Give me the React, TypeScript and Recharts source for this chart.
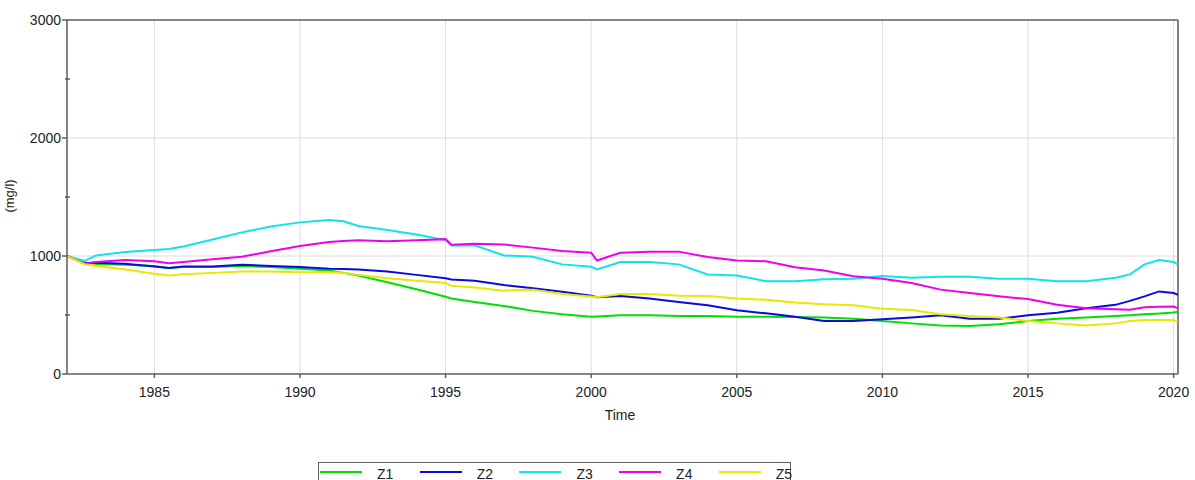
import React from 'react';
import {
  LineChart,
  Line,
  XAxis,
  YAxis,
  CartesianGrid,
  ReferenceLine,
  Label,
} from 'recharts';

// sample times (decimal years)
const time = [
  1982, 1982.6, 1983, 1984, 1985, 1985.5, 1986, 1987, 1988, 1989, 1990, 1991,
  1991.5, 1992, 1993, 1994, 1995, 1995.2, 1996, 1997, 1998, 1999, 2000, 2000.2,
  2001, 2002, 2003, 2004, 2005, 2006, 2007, 2008, 2009, 2010, 2011, 2012, 2013,
  2014, 2015, 2016, 2017, 2018, 2018.5, 2019, 2019.5, 2020, 2020.15,
];

// concentrations (mg/l) per zone
const z1 = [
  1000, 945, 932, 926, 915, 898, 906, 906, 915, 906, 892, 877,
  857, 834, 777, 718, 655, 640, 611, 577, 535, 506, 486, 488,
  497, 497, 492, 492, 486, 486, 483, 478, 469, 449, 429, 412, 406,
  421, 449, 469, 478, 492, 498, 506, 512, 521, 527,
];
const z2 = [
  1000, 940, 943, 935, 912, 898, 912, 912, 926, 915, 906, 892,
  889, 886, 869, 840, 811, 800, 791, 754, 726, 697, 663, 650,
  660, 640, 611, 583, 540, 514, 486, 449, 449, 464, 478, 497, 469,
  469, 497, 520, 557, 586, 620, 658, 700, 686, 672,
];
const z3 = [
  1000, 958, 1005, 1034, 1050, 1060, 1080, 1140, 1200, 1250, 1285, 1306,
  1295, 1254, 1220, 1182, 1135, 1090, 1091, 1005, 994, 929, 908, 886,
  949, 949, 929, 844, 835, 787, 787, 802, 807, 830, 816, 825, 825,
  807, 807, 787, 787, 816, 844, 929, 966, 949, 929,
];
const z4 = [
  1000, 935, 949, 966, 956, 938, 950, 972, 994, 1040, 1085, 1119,
  1128, 1134, 1125, 1134, 1143, 1096, 1104, 1098, 1071, 1042, 1028, 962,
  1028, 1037, 1037, 991, 962, 956, 905, 877, 829, 807, 772, 715, 686,
  658, 635, 586, 557, 549, 545, 566, 570, 572, 557,
];
const z5 = [
  1000, 930, 915, 885, 850, 834, 846, 857, 869, 869, 863, 863,
  858, 840, 811, 791, 771, 748, 734, 706, 714, 678, 657, 650,
  678, 678, 663, 660, 640, 629, 606, 591, 583, 554, 543, 506, 492,
  478, 449, 429, 412, 429, 450, 457, 457, 457, 440,
];

const yearTicks = [1985, 1990, 1995, 2000, 2005, 2010, 2015, 2020];
const valueTicks = [0, 500, 1000, 1500, 2000, 2500, 3000];
const gridValues = [1000, 2000];

const series = [
  { key: 'Z1', values: z1, color: '#00e000' },
  { key: 'Z2', values: z2, color: '#0a0ae0' },
  { key: 'Z3', values: z3, color: '#10e4e4' },
  { key: 'Z4', values: z4, color: '#ee00ee' },
  { key: 'Z5', values: z5, color: '#e8e800' },
];

const data = time.map((t, i) => {
  const row: Record<string, number> = { t };
  series.forEach((s) => {
    row[s.key] = s.values[i];
  });
  return row;
});

const FONT = '"Liberation Sans", Arial, sans-serif';
const AXIS = '#5f5f5f';
const X_MIN = 1982;
const X_MAX = 2020.15;
const PLOT_LEFT = 67;

// major ticks get a label and an outward mark, minor ones just cross the axis
const ValueTick = (props: any) => {
  const { y, payload } = props;
  const major = payload.value % 1000 === 0;
  if (!major) {
    return (
      <line x1={PLOT_LEFT - 2} x2={PLOT_LEFT + 3} y1={y} y2={y} stroke={AXIS} strokeWidth={1.5} />
    );
  }
  return (
    <g>
      <line x1={PLOT_LEFT - 5} x2={PLOT_LEFT} y1={y} y2={y} stroke={AXIS} strokeWidth={1.5} />
      <text
        x={PLOT_LEFT - 6}
        y={y}
        dy={5}
        textAnchor="end"
        fontSize={14}
        fontFamily={FONT}
        fill="#222"
      >
        {payload.value}
      </text>
    </g>
  );
};

const Legendbox = () => (
  <div
    style={{
      position: 'absolute',
      left: 318,
      top: 462,
      width: 471,
      height: 24,
      border: `1px solid ${AXIS}`,
      fontFamily: FONT,
      fontSize: 14,
      color: '#222',
    }}
  >
    {series.map((s, i) => (
      <div key={s.key}>
        <div
          style={{
            position: 'absolute',
            left: 1 + i * 99.7,
            top: 8,
            width: 42,
            height: 2,
            background: s.color,
          }}
        />
        <span style={{ position: 'absolute', left: 58 + i * 99.7, top: 3 }}>
          {s.key}
        </span>
      </div>
    ))}
  </div>
);

export default function App() {
  return (
    <div style={{ position: 'absolute', left: 0, top: 0, width: 1195, height: 480, background: '#fff' }}>
      <LineChart
        width={1195}
        height={480}
        data={data}
        margin={{ top: 20, right: 17, bottom: 56, left: 7 }}
      >
        <CartesianGrid stroke="#dcdcdc" strokeWidth={1} horizontalValues={gridValues} />
        <XAxis
          dataKey="t"
          type="number"
          domain={[X_MIN, X_MAX]}
          ticks={yearTicks}
          allowDataOverflow
          height={50}
          stroke={AXIS}
          strokeWidth={1.5}
          tickSize={4}
          tickMargin={9}
          tick={{ fontSize: 14, fontFamily: FONT, fill: '#222' }}
        >
          <Label
            content={() => (
              <text x={620} y={420} textAnchor="middle" fontSize={14} fontFamily={FONT} fill="#222">
                Time
              </text>
            )}
          />
        </XAxis>
        <YAxis
          type="number"
          domain={[0, 3000]}
          ticks={valueTicks}
          width={60}
          stroke={AXIS}
          strokeWidth={1.5}
          tickLine={false}
          tick={<ValueTick />}
          interval={0}
        >
          <Label
            content={() => (
              <text
                x={14}
                y={196}
                transform="rotate(-90 14 196)"
                textAnchor="middle"
                fontSize={13}
                fontFamily={FONT}
                fill="#222"
              >
                (mg/l)
              </text>
            )}
          />
        </YAxis>
        <ReferenceLine y={3000} stroke={AXIS} strokeWidth={1.5} ifOverflow="visible" />
        <ReferenceLine x={X_MAX} stroke={AXIS} strokeWidth={1.5} ifOverflow="visible" />
        {series.map((s) => (
          <Line
            key={s.key}
            dataKey={s.key}
            type="linear"
            stroke={s.color}
            strokeWidth={2}
            dot={false}
            isAnimationActive={false}
          />
        ))}
      </LineChart>
      <Legendbox />
    </div>
  );
}
